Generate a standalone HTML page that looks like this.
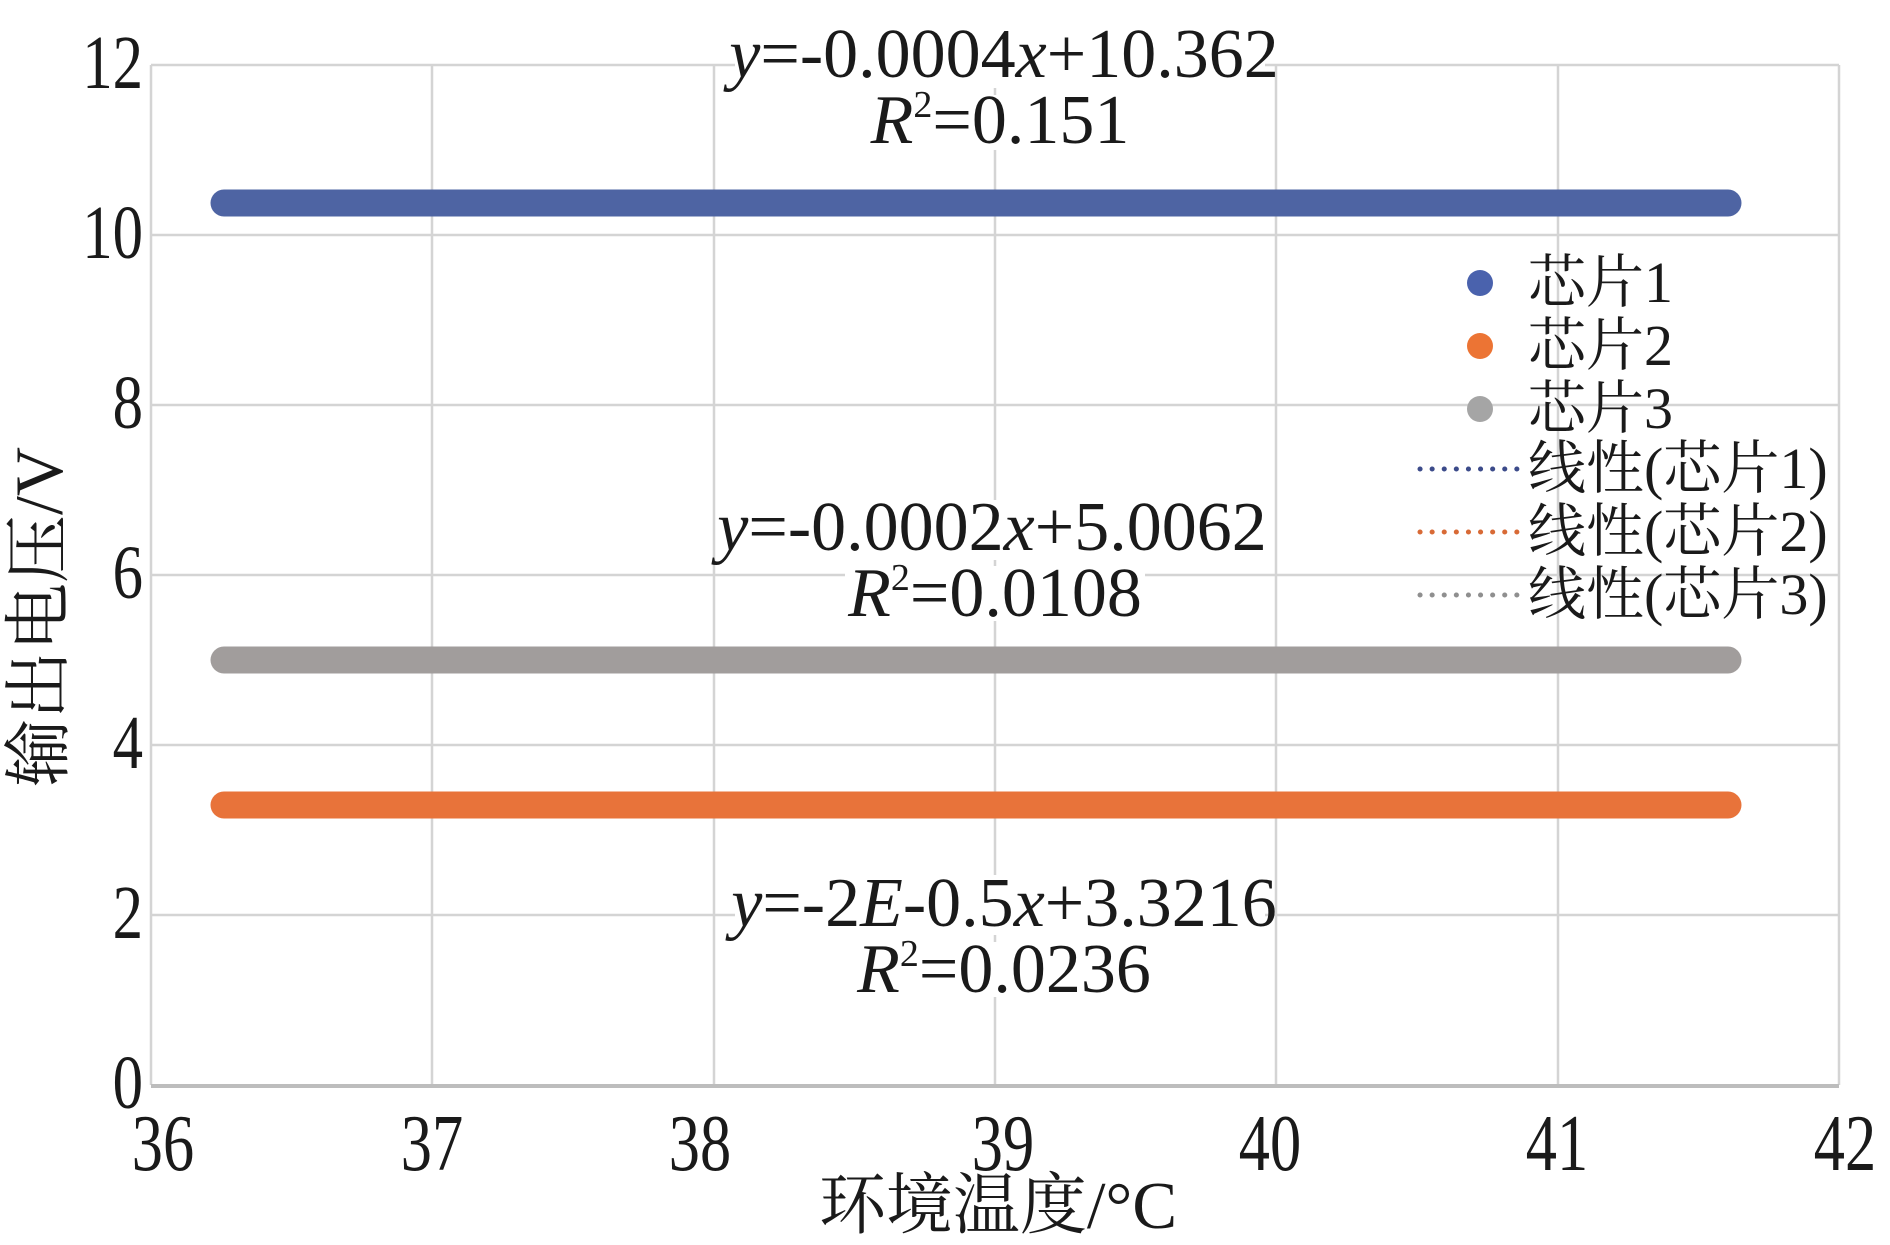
<!DOCTYPE html>
<html><head><meta charset="utf-8"><style>
body{margin:0;background:#fff}
svg text{font-family:"Liberation Serif","Noto Serif CJK SC","Noto Sans CJK SC",serif;fill:#1a1a1a}
</style></head><body>
<svg width="1890" height="1240" viewBox="0 0 1890 1240" xmlns="http://www.w3.org/2000/svg">
<rect width="1890" height="1240" fill="#fff"/>
<g stroke="#d4d4d4" stroke-width="2.5">
<line x1="432" y1="65" x2="432" y2="1085"/>
<line x1="714" y1="65" x2="714" y2="1085"/>
<line x1="995" y1="65" x2="995" y2="1085"/>
<line x1="1276" y1="65" x2="1276" y2="1085"/>
<line x1="1558" y1="65" x2="1558" y2="1085"/>
<line x1="1839" y1="65" x2="1839" y2="1085"/>
<line x1="151" y1="65" x2="1839" y2="65"/>
<line x1="151" y1="235" x2="1839" y2="235"/>
<line x1="151" y1="405" x2="1839" y2="405"/>
<line x1="151" y1="575" x2="1839" y2="575"/>
<line x1="151" y1="745" x2="1839" y2="745"/>
<line x1="151" y1="915" x2="1839" y2="915"/>
<line x1="151" y1="65" x2="151" y2="1085"/>
</g>
<line x1="151" y1="1086" x2="1839" y2="1086" stroke="#bdbdbd" stroke-width="4"/>
<g fill="#fff">
<rect x="735" y="28" width="530" height="60"/>
<rect x="860" y="95" width="280" height="55"/>
<rect x="725" y="500" width="540" height="60"/>
<rect x="845" y="566" width="300" height="55"/>
<rect x="735" y="875" width="530" height="60"/>
<rect x="855" y="942" width="300" height="55"/>
</g>
<g stroke-linecap="round" stroke-width="27">
<line x1="224" y1="203" x2="1728" y2="203" stroke="#4e64a3"/>
<line x1="224" y1="660" x2="1728" y2="660" stroke="#a19d9c"/>
<line x1="224" y1="805" x2="1728" y2="805" stroke="#e8733a"/>
</g>
<g font-size="76" text-anchor="end">
<text x="143" y="88" transform="translate(143 0) scale(0.8 1) translate(-143 0)">12</text>
<text x="143" y="258" transform="translate(143 0) scale(0.8 1) translate(-143 0)">10</text>
<text x="143" y="428" transform="translate(143 0) scale(0.8 1) translate(-143 0)">8</text>
<text x="143" y="598" transform="translate(143 0) scale(0.8 1) translate(-143 0)">6</text>
<text x="143" y="768" transform="translate(143 0) scale(0.8 1) translate(-143 0)">4</text>
<text x="143" y="938" transform="translate(143 0) scale(0.8 1) translate(-143 0)">2</text>
<text x="143" y="1108" transform="translate(143 0) scale(0.8 1) translate(-143 0)">0</text>
</g>
<g font-size="80" text-anchor="middle">
<text transform="translate(163 1170) scale(0.78 1)">36</text>
<text transform="translate(432 1170) scale(0.78 1)">37</text>
<text transform="translate(700 1170) scale(0.78 1)">38</text>
<text transform="translate(1003 1170) scale(0.78 1)">39</text>
<text transform="translate(1270 1170) scale(0.78 1)">40</text>
<text transform="translate(1557 1170) scale(0.78 1)">41</text>
<text transform="translate(1845 1170) scale(0.78 1)">42</text>
</g>
<text x="998" y="1228" font-size="67" text-anchor="middle">环境温度/°C</text>
<text transform="translate(62 617) rotate(-90)" font-size="68" text-anchor="middle">输出电压/V</text>
<g font-size="70" text-anchor="middle">
<text x="1004" y="77"><tspan font-style="italic">y</tspan>=-0.0004<tspan font-style="italic">x</tspan>+10.362</text>
<text x="1000" y="143"><tspan font-style="italic">R</tspan><tspan font-size="38" dy="-26">2</tspan><tspan dy="26">=0.151</tspan></text>
<text x="992" y="550"><tspan font-style="italic">y</tspan>=-0.0002<tspan font-style="italic">x</tspan>+5.0062</text>
<text x="995" y="616"><tspan font-style="italic">R</tspan><tspan font-size="38" dy="-26">2</tspan><tspan dy="26">=0.0108</tspan></text>
<text x="1004" y="926"><tspan font-style="italic">y</tspan>=-2<tspan font-style="italic">E</tspan>-0.5<tspan font-style="italic">x</tspan>+3.3216</text>
<text x="1004" y="992"><tspan font-style="italic">R</tspan><tspan font-size="38" dy="-26">2</tspan><tspan dy="26">=0.0236</tspan></text>
</g>
<circle cx="1480" cy="283" r="13" fill="#4a62ad"/>
<circle cx="1480" cy="346" r="13" fill="#ec7434"/>
<circle cx="1480" cy="409" r="13" fill="#a5a5a5"/>
<g stroke-width="5" stroke-dasharray="0.1 12" stroke-linecap="round">
<line x1="1420" y1="469" x2="1525" y2="469" stroke="#3c4b8a"/>
<line x1="1420" y1="532" x2="1525" y2="532" stroke="#d86a36"/>
<line x1="1420" y1="595" x2="1525" y2="595" stroke="#8f8f8f"/>
</g>
<g font-size="58">
<text x="1528" y="302">芯片1</text>
<text x="1528" y="365">芯片2</text>
<text x="1528" y="428">芯片3</text>
<text x="1528" y="488">线性(芯片1)</text>
<text x="1528" y="551">线性(芯片2)</text>
<text x="1528" y="614">线性(芯片3)</text>
</g>
</svg>
</body></html>
